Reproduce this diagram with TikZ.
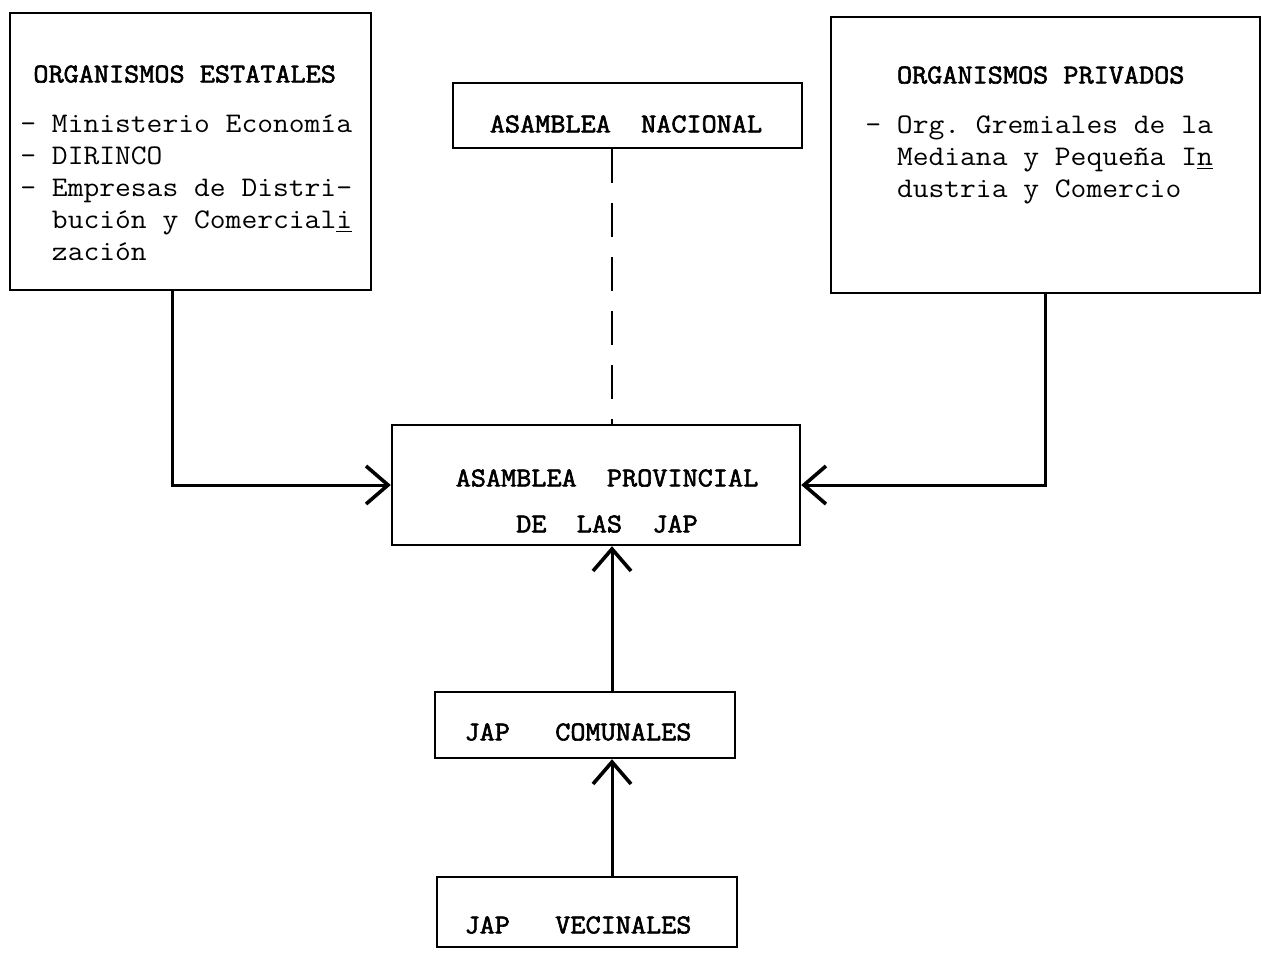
\documentclass[tikz,border=0pt]{standalone}
\usepackage{fontspec}
\setmonofont[FakeStretch=1.08,BoldFont={Latin Modern Mono},BoldFeatures={FakeBold=2.2}]{Latin Modern Mono}
\usetikzlibrary{arrows.meta}

\begin{document}
\begin{tikzpicture}[x=0.5pt,y=-0.5pt]
            \tikzset{box/.style = {draw, line width=1.2pt, inner sep=0pt}}
            \tikzset{flow/.style = {line width=1.5pt, -{Straight Barb[length=11pt,width=19pt,line width=1.8pt]}}}
            \tikzset{dashline/.style = {line width=1.2pt, dash pattern=on 17pt off 10pt}}
            \tikzset{txt/.style = {font=\ttfamily\fontsize{14.2pt}{16pt}\selectfont, inner sep=0pt}}
            \tikzset{lbl/.style = {font=\ttfamily\bfseries\fontsize{13.6pt}{16pt}\selectfont, inner sep=0pt}}
            \newcommand{\headtxt}[1]{{\bfseries\fontsize{13.6pt}{16pt}\selectfont #1}}

            \useasboundingbox (0,0) rectangle (1262,955);

            % boxes
            \node[box, minimum width=180.5pt, minimum height=138.5pt] (est) at (190.5,151.5) {};
            \node[box, minimum width=214.5pt, minimum height=138pt] (priv) at (1045.5,155) {};
            \node[box, minimum width=174.5pt, minimum height=32.5pt] (nac) at (627.5,115.5) {};
            \node[box, minimum width=204pt, minimum height=60pt] (prov) at (596,485) {};
            \node[box, minimum width=150pt, minimum height=33pt] (com) at (585,725) {};
            \node[box, minimum width=150pt, minimum height=35pt] (vec) at (587,912) {};

            % texts
            \node[txt, anchor=north west, align=left] (estT) at (20,59.6)
                {\strut\hspace*{6.5pt}\headtxt{ORGANISMOS ESTATALES}\\[9pt]
                 - Ministerio Economía\\
                 - DIRINCO\\
                 - Empresas de Distri-\\
                 ~~bución y Comercial\underline{i}\\
                 ~~zación};
            \node[txt, anchor=north west, align=left] (privT) at (865,60.6)
                {\strut~~\headtxt{ORGANISMOS PRIVADOS}\\[9pt]
                 - Org. Gremiales de la\\
                 ~~Mediana y Pequeña I\underline{n}\\
                 ~~dustria y Comercio};
            \node[lbl] (nacT) at (626,124) {ASAMBLEA~~NACIONAL};
            \node[lbl, align=center] (provT) at (607,501) {ASAMBLEA~~PROVINCIAL\\[7pt] DE~~LAS~~JAP};
            \node[lbl] (comT) at (578,732) {JAP~~~COMUNALES};
            \node[lbl] (vecT) at (578,925) {JAP~~~VECINALES};

            % connectors
            \coordinate (mid) at (612,0);
            \draw[flow] ([xshift=-9pt]est.south) |- (prov.west);
            \draw[flow] (priv.south) |- (prov.east);
            \draw[dashline] (nac.south -| mid) -- (prov.north -| mid);
            \draw[flow] (com.north -| mid) -- (prov.south -| mid);
            \draw[flow] (vec.north -| mid) -- (com.south -| mid);

\end{tikzpicture}
\end{document}
